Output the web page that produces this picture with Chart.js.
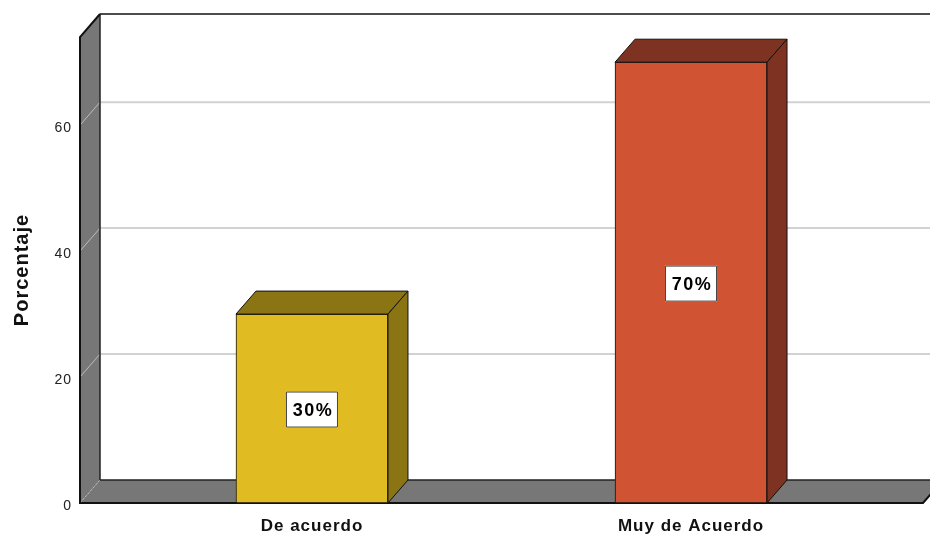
<!DOCTYPE html>
<html>
<head>
<meta charset="utf-8">
<script src="https://cdn.jsdelivr.net/npm/chart.js@4"></script>
<style>
  html, body { margin: 0; padding: 0; background: #fff; }
  #wrap { width: 930px; height: 537px; }
</style>
</head>
<body>
<div id="wrap"><canvas id="chart"></canvas></div>
<script>
// data
const categories = ['De acuerdo', 'Muy de Acuerdo'];
const values     = [30, 70];
const yTicks     = [0, 20, 40, 60];

const frontColors = ['#E0BB22', '#D05434'];
const darkColors  = ['#8A7414', '#7E3322'];

// 3D depth offset (px)
const DX = 20;
const DY = 23;

// SPSS-like text is slightly spaced out
const spacingPlugin = {
  id: 'spacing',
  beforeDraw(chart) { chart.ctx.letterSpacing = '1px'; },
  afterDraw(chart) { chart.ctx.letterSpacing = '0px'; }
};

// walls, floor and back grid
const wallsPlugin = {
  id: 'walls',
  beforeDatasetsDraw(chart) {
    const ctx = chart.ctx;
    const a = chart.chartArea;
    const y = chart.scales.y;
    ctx.save();

    // back wall top edge
    ctx.strokeStyle = '#111';
    ctx.lineWidth = 1.5;
    ctx.beginPath();
    ctx.moveTo(a.left + DX, a.top - DY);
    ctx.lineTo(a.right + DX, a.top - DY);
    ctx.stroke();

    // gridlines on the back wall
    yTicks.forEach(v => {
      if (v === 0) return;
      const py = y.getPixelForValue(v);
      ctx.strokeStyle = '#d2d2d2';
      ctx.lineWidth = 2;
      ctx.beginPath();
      ctx.moveTo(a.left + DX, py - DY);
      ctx.lineTo(a.right + DX, py - DY);
      ctx.stroke();
    });

    // left wall
    ctx.fillStyle = '#777';
    ctx.beginPath();
    ctx.moveTo(a.left, a.top);
    ctx.lineTo(a.left + DX, a.top - DY);
    ctx.lineTo(a.left + DX, a.bottom - DY);
    ctx.lineTo(a.left, a.bottom);
    ctx.closePath();
    ctx.fill();

    yTicks.forEach(v => {
      if (v === 0) return;
      const py = y.getPixelForValue(v);
      ctx.strokeStyle = '#bdbdbd';
      ctx.lineWidth = 1;
      ctx.beginPath();
      ctx.moveTo(a.left, py);
      ctx.lineTo(a.left + DX, py - DY);
      ctx.stroke();
    });

    // floor
    ctx.fillStyle = '#777';
    ctx.beginPath();
    ctx.moveTo(a.left, a.bottom);
    ctx.lineTo(a.left + DX, a.bottom - DY);
    ctx.lineTo(a.right + DX, a.bottom - DY);
    ctx.lineTo(a.right, a.bottom);
    ctx.closePath();
    ctx.fill();

    // inner edges (wall/floor meet the back wall)
    ctx.strokeStyle = '#222';
    ctx.lineWidth = 1.5;
    ctx.beginPath();
    ctx.moveTo(a.left + DX, a.top - DY);
    ctx.lineTo(a.left + DX, a.bottom - DY);
    ctx.lineTo(a.right + DX, a.bottom - DY);
    ctx.stroke();

    // dashed fold between left wall and floor
    ctx.strokeStyle = '#bbb';
    ctx.lineWidth = 1;
    ctx.setLineDash([2, 2]);
    ctx.beginPath();
    ctx.moveTo(a.left, a.bottom);
    ctx.lineTo(a.left + DX, a.bottom - DY);
    ctx.stroke();
    ctx.setLineDash([]);

    // outer edges
    ctx.strokeStyle = '#111';
    ctx.lineWidth = 2;
    ctx.beginPath();
    ctx.moveTo(a.left + DX, a.top - DY);
    ctx.lineTo(a.left, a.top);
    ctx.lineTo(a.left, a.bottom);
    ctx.lineTo(a.right, a.bottom);
    ctx.lineTo(a.right + DX, a.bottom - DY);
    ctx.stroke();

    ctx.restore();
  },
  afterDatasetsDraw(chart) {
    const ctx = chart.ctx;
    const meta = chart.getDatasetMeta(0);
    ctx.save();
    ctx.lineWidth = 1;
    ctx.lineJoin = 'round';
    meta.data.forEach((bar, i) => {
      const p = bar.getProps(['x', 'y', 'base', 'width'], true);
      const x0 = p.x - p.width / 2;
      const x1 = p.x + p.width / 2;
      const top = p.y;
      const base = p.base;
      ctx.fillStyle = darkColors[i];
      ctx.strokeStyle = '#111';
      // top face
      ctx.beginPath();
      ctx.moveTo(x0, top);
      ctx.lineTo(x0 + DX, top - DY);
      ctx.lineTo(x1 + DX, top - DY);
      ctx.lineTo(x1, top);
      ctx.closePath();
      ctx.fill();
      ctx.stroke();
      // side face
      ctx.beginPath();
      ctx.moveTo(x1, top);
      ctx.lineTo(x1 + DX, top - DY);
      ctx.lineTo(x1 + DX, base - DY);
      ctx.lineTo(x1, base);
      ctx.closePath();
      ctx.fill();
      ctx.stroke();

      // value label
      const cy = (top + base) / 2 + 1;
      const w = 52, h = 36;
      ctx.fillStyle = '#fff';
      ctx.fillRect(p.x - w / 2, cy - h / 2, w, h);
      ctx.strokeStyle = '#444';
      ctx.strokeRect(p.x - w / 2 + 0.5, cy - h / 2 + 0.5, w - 1, h - 1);
      ctx.fillStyle = '#000';
      ctx.font = 'bold 18px "Liberation Sans", Arial, sans-serif';
      ctx.letterSpacing = '1.5px';
      ctx.textAlign = 'center';
      ctx.textBaseline = 'middle';
      ctx.fillText(values[i] + '%', p.x + 1, cy + 1);
    });
    ctx.restore();
  }
};

new Chart(document.getElementById('chart').getContext('2d'), {
  type: 'bar',
  data: {
    datasets: [{
      data: categories.map((c, i) => ({ x: i, y: values[i] })),
      backgroundColor: frontColors,
      borderColor: '#111',
      borderWidth: 1,
      borderSkipped: false,
      barThickness: 152
    }]
  },
  options: {
    responsive: true,
    maintainAspectRatio: false,
    animation: false,
    layout: { padding: { left: 0, top: 37, right: 7, bottom: 0 } },
    plugins: {
      legend: { display: false },
      tooltip: { enabled: false }
    },
    scales: {
      x: {
        type: 'linear',
        offset: false,
        min: -0.612,
        max: 1.612,
        afterBuildTicks: scale => {
          scale.ticks = categories.map((c, i) => ({ value: i }));
        },
        afterFit: scale => { scale.height = 34; },
        grid: { display: false },
        border: { display: false },
        ticks: {
          callback: v => categories[v],
          color: '#111',
          padding: 5,
          maxRotation: 0,
          font: { family: '"Liberation Sans", Arial, sans-serif', size: 17, weight: 'bold' }
        }
      },
      y: {
        min: 0,
        max: 74,
        afterBuildTicks: scale => {
          scale.ticks = yTicks.map(v => ({ value: v }));
        },
        afterFit: scale => { scale.width = 80; },
        grid: { display: false },
        border: { display: false },
        ticks: {
          color: '#222',
          padding: 0,
          labelOffset: 3,
          font: { family: '"Liberation Sans", Arial, sans-serif', size: 14 }
        },
        title: {
          display: true,
          text: 'Porcentaje',
          color: '#111',
          padding: { top: 10, bottom: 0 },
          font: { family: '"Liberation Sans", Arial, sans-serif', size: 20, weight: 'bold' }
        }
      }
    }
  },
  plugins: [spacingPlugin, wallsPlugin]
});
</script>
</body>
</html>
